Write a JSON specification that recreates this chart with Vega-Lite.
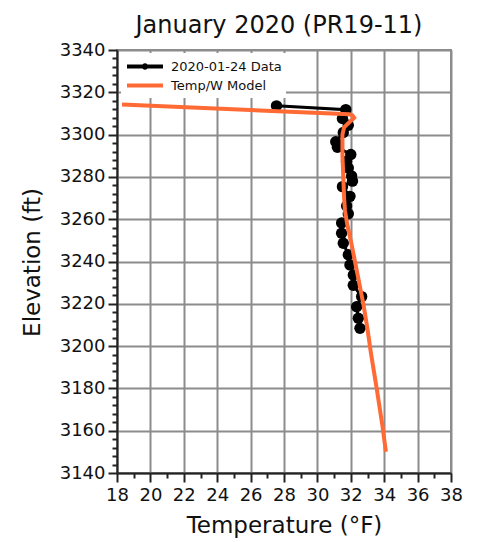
{
  "$schema": "https://vega.github.io/schema/vega-lite/v6.json",
  "width": 334,
  "height": 423,
  "autosize": {"type": "none"},
  "padding": {"left": 117, "top": 50, "right": 32, "bottom": 69},
  "title": {
    "text": "January 2020 (PR19-11)",
    "font": "DejaVu Sans",
    "fontSize": 24,
    "fontWeight": "normal",
    "color": "#111111",
    "anchor": "middle",
    "baseline": "alphabetic",
    "offset": -16,
    "dx": -5
  },
  "datasets": {
    "profile": [
      {"temp": 27.55, "elev": 3313.6, "series": "2020-01-24 Data"},
      {"temp": 31.7, "elev": 3311.8, "series": "2020-01-24 Data"},
      {"temp": 31.5, "elev": 3307.6, "series": "2020-01-24 Data"},
      {"temp": 31.85, "elev": 3304.4, "series": "2020-01-24 Data"},
      {"temp": 31.55, "elev": 3301.0, "series": "2020-01-24 Data"},
      {"temp": 31.1, "elev": 3296.6, "series": "2020-01-24 Data"},
      {"temp": 31.2, "elev": 3294.0, "series": "2020-01-24 Data"},
      {"temp": 32.0, "elev": 3290.6, "series": "2020-01-24 Data"},
      {"temp": 31.75, "elev": 3287.4, "series": "2020-01-24 Data"},
      {"temp": 31.85, "elev": 3284.2, "series": "2020-01-24 Data"},
      {"temp": 32.05, "elev": 3280.4, "series": "2020-01-24 Data"},
      {"temp": 32.1, "elev": 3278.0, "series": "2020-01-24 Data"},
      {"temp": 31.5, "elev": 3275.4, "series": "2020-01-24 Data"},
      {"temp": 31.95, "elev": 3270.8, "series": "2020-01-24 Data"},
      {"temp": 31.75, "elev": 3266.2, "series": "2020-01-24 Data"},
      {"temp": 31.85, "elev": 3262.6, "series": "2020-01-24 Data"},
      {"temp": 31.45, "elev": 3258.2, "series": "2020-01-24 Data"},
      {"temp": 31.45, "elev": 3253.4, "series": "2020-01-24 Data"},
      {"temp": 31.55, "elev": 3248.6, "series": "2020-01-24 Data"},
      {"temp": 31.85, "elev": 3243.2, "series": "2020-01-24 Data"},
      {"temp": 31.95, "elev": 3238.4, "series": "2020-01-24 Data"},
      {"temp": 32.15, "elev": 3233.6, "series": "2020-01-24 Data"},
      {"temp": 32.15, "elev": 3228.8, "series": "2020-01-24 Data"},
      {"temp": 32.65, "elev": 3223.4, "series": "2020-01-24 Data"},
      {"temp": 32.35, "elev": 3218.6, "series": "2020-01-24 Data"},
      {"temp": 32.45, "elev": 3213.2, "series": "2020-01-24 Data"},
      {"temp": 32.55, "elev": 3208.4, "series": "2020-01-24 Data"}
    ],
    "model": [
      {"temp": 18.3, "elev": 3314.2, "series": "Temp/W Model"},
      {"temp": 31.9, "elev": 3309.6, "series": "Temp/W Model"},
      {"temp": 32.1, "elev": 3309.1, "series": "Temp/W Model"},
      {"temp": 32.2, "elev": 3308.0, "series": "Temp/W Model"},
      {"temp": 31.6, "elev": 3303.5, "series": "Temp/W Model"},
      {"temp": 31.5, "elev": 3300.0, "series": "Temp/W Model"},
      {"temp": 31.5, "elev": 3290.0, "series": "Temp/W Model"},
      {"temp": 31.55, "elev": 3280.0, "series": "Temp/W Model"},
      {"temp": 31.6, "elev": 3270.0, "series": "Temp/W Model"},
      {"temp": 31.65, "elev": 3264.0, "series": "Temp/W Model"},
      {"temp": 31.8, "elev": 3257.0, "series": "Temp/W Model"},
      {"temp": 32.05, "elev": 3248.0, "series": "Temp/W Model"},
      {"temp": 32.25, "elev": 3240.0, "series": "Temp/W Model"},
      {"temp": 32.5, "elev": 3230.0, "series": "Temp/W Model"},
      {"temp": 32.75, "elev": 3220.0, "series": "Temp/W Model"},
      {"temp": 33.0, "elev": 3208.0, "series": "Temp/W Model"},
      {"temp": 33.2, "elev": 3197.0, "series": "Temp/W Model"},
      {"temp": 33.55, "elev": 3180.0, "series": "Temp/W Model"},
      {"temp": 33.9, "elev": 3162.0, "series": "Temp/W Model"},
      {"temp": 34.1, "elev": 3150.0, "series": "Temp/W Model"}
    ]
  },
  "config": {
    "font": "DejaVu Sans",
    "view": {"stroke": "#8c8c8c", "strokeWidth": 2},
    "axis": {
      "labelFont": "DejaVu Sans",
      "titleFont": "DejaVu Sans",
      "labelColor": "#111111",
      "titleColor": "#111111",
      "labelFlush": false,
      "labelOverlap": false
    }
  },
  "resolve": {"axis": {"x": "independent", "y": "independent"}},
  "layer": [
    {
      "data": {"name": "profile"},
      "mark": {"type": "line", "strokeWidth": 3},
      "encoding": {
        "x": {
          "field": "temp",
          "type": "quantitative",
          "scale": {"domain": [18, 38], "nice": false, "zero": false},
          "axis": {
            "orient": "bottom",
            "values": [18, 20, 22, 24, 26, 28, 30, 32, 34, 36, 38],
            "tickSize": 9,
            "tickWidth": 2,
            "tickColor": "#222222",
            "domainColor": "#222222",
            "domainWidth": 2,
            "grid": true,
            "gridColor": "#8c8c8c",
            "gridWidth": 2,
            "labelFontSize": 18,
            "labelPadding": 4,
            "title": "Temperature (°F)",
            "titleFontSize": 23,
            "titleFontWeight": "normal",
            "titleBaseline": "alphabetic",
            "titleY": 59
          }
        },
        "y": {
          "field": "elev",
          "type": "quantitative",
          "scale": {"domain": [3140, 3340], "nice": false, "zero": false},
          "axis": {
            "orient": "left",
            "values": [3140, 3160, 3180, 3200, 3220, 3240, 3260, 3280, 3300, 3320, 3340],
            "format": "d",
            "tickSize": 9,
            "tickWidth": 2,
            "tickColor": "#222222",
            "domainColor": "#222222",
            "domainWidth": 2,
            "grid": true,
            "gridColor": "#8c8c8c",
            "gridWidth": 2,
            "labelFontSize": 18,
            "labelPadding": 3,
            "title": "Elevation (ft)",
            "titleFontSize": 23,
            "titleFontWeight": "normal",
            "titleAngle": -90,
            "titleBaseline": "alphabetic",
            "titleX": -78,
            "titleY": 212
          }
        },
        "order": {"field": "elev", "sort": "descending"},
        "color": {
          "field": "series",
          "type": "nominal",
          "scale": {
            "domain": ["2020-01-24 Data", "Temp/W Model"],
            "range": ["#000000", "#ff6a35"]
          },
          "legend": {
            "title": null,
            "orient": "none",
            "legendX": 4,
            "legendY": 3,
            "fillColor": "white",
            "padding": 4,
            "rowPadding": 0,
            "labelFont": "DejaVu Sans",
            "labelFontSize": 13,
            "labelColor": "#111111",
            "symbolType": "M-2.4,0H2.4",
            "symbolSize": 225,
            "symbolStrokeWidth": 4,
            "symbolOffset": 10.5,
            "labelOffset": 16.5,
            "encode": {
              "symbols": {
                "update": {
                  "shape": {"signal": "datum.value === '2020-01-24 Data' ? 'M-2.4,0H2.4M-0.16,0A0.16,0.16 0 1 0 0.16,0A0.16,0.16 0 1 0 -0.16,0' : 'M-2.4,0H2.4'"},
                  "fill": {"signal": "datum.value === '2020-01-24 Data' ? '#000000' : 'transparent'"}
                }
              }
            }
          }
        }
      }
    },
    {
      "data": {"name": "profile"},
      "mark": {"type": "circle", "size": 130, "color": "#000000", "opacity": 1},
      "encoding": {
        "x": {"field": "temp", "type": "quantitative", "axis": null},
        "y": {"field": "elev", "type": "quantitative", "axis": null}
      }
    },
    {
      "data": {"name": "model"},
      "mark": {"type": "line", "strokeWidth": 4, "color": "#ff6a35"},
      "encoding": {
        "x": {
          "field": "temp",
          "type": "quantitative",
          "axis": {
            "orient": "bottom",
            "values": [19, 21, 23, 25, 27, 29, 31, 33, 35, 37],
            "tickSize": 5,
            "tickWidth": 2,
            "tickColor": "#222222",
            "domain": false,
            "grid": false,
            "labels": false,
            "title": null
          }
        },
        "y": {
          "field": "elev",
          "type": "quantitative",
          "axis": {
            "orient": "left",
            "values": [3144, 3148, 3152, 3156, 3164, 3168, 3172, 3176, 3184, 3188, 3192, 3196, 3204, 3208, 3212, 3216, 3224, 3228, 3232, 3236, 3244, 3248, 3252, 3256, 3264, 3268, 3272, 3276, 3284, 3288, 3292, 3296, 3304, 3308, 3312, 3316, 3324, 3328, 3332, 3336],
            "tickSize": 5,
            "tickWidth": 2,
            "tickColor": "#222222",
            "domain": false,
            "grid": false,
            "labels": false,
            "title": null
          }
        },
        "order": {"field": "elev", "sort": "descending"}
      }
    }
  ]
}
